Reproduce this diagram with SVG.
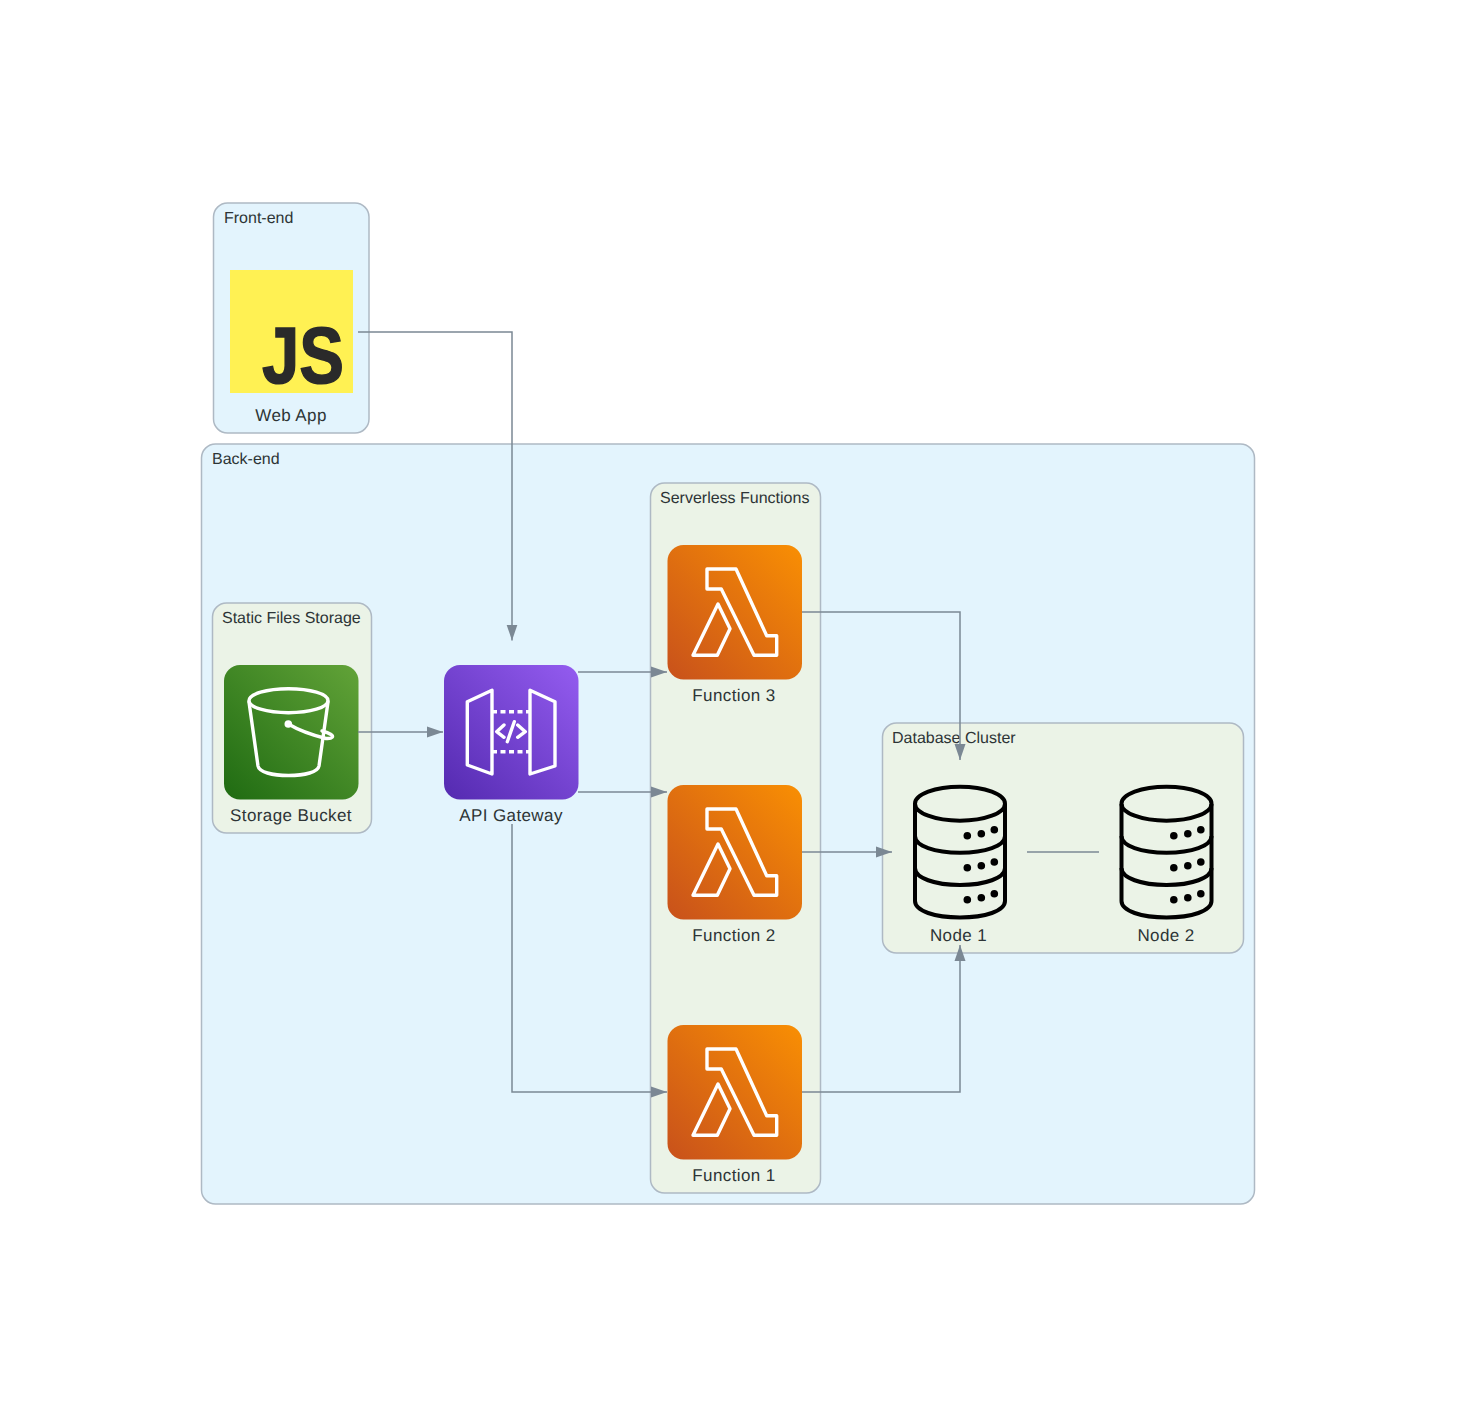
<svg xmlns="http://www.w3.org/2000/svg" xmlns:xlink="http://www.w3.org/1999/xlink" width="1457" height="1407" viewBox="0 0 1457 1407">
<style>
text{font-family:"Liberation Sans",Arial,sans-serif;fill:#2d3436;text-rendering:geometricPrecision}
.cl{font-size:16px}
.nl{font-size:17px;letter-spacing:.4px;text-anchor:middle}
.blue{fill:#e3f4fd;stroke:#aeb9c4;stroke-width:1.5}
.green{fill:#ebf3e7;stroke:#aeb9c4;stroke-width:1.5}
.w{fill:none;stroke:#fff;stroke-width:3.400;stroke-linejoin:round;stroke-linecap:round}
.c{fill:none;stroke:#7b8894;stroke-width:1.500}
.k{fill:none;stroke:#000;stroke-width:4;stroke-linejoin:round}
</style>
<defs>
<marker id="a" markerUnits="userSpaceOnUse" markerWidth="16" markerHeight="12" refX="16" refY="6" orient="auto"><path d="M0,0.500L16,6L0,11.500Z" fill="#7b8894"/></marker>
<linearGradient id="go" x1="0" y1="1" x2="1" y2="0"><stop offset="0" stop-color="#c8511b"/><stop offset="1" stop-color="#f98f03"/></linearGradient>
<linearGradient id="gg" x1="0" y1="1" x2="1" y2="0"><stop offset="0" stop-color="#1f6b12"/><stop offset="1" stop-color="#62a338"/></linearGradient>
<linearGradient id="gp" x1="0" y1="1" x2="1" y2="0"><stop offset="0" stop-color="#542ab0"/><stop offset="1" stop-color="#945cf0"/></linearGradient>
<g id="lam">
<rect x="667.500" y="545" width="134.500" height="134.500" rx="16" fill="url(#go)"/>
<path class="w" d="M707,569H736L766.700,635.700H776.700V655.300H754L721.300,589H707Z"/>
<path class="w" d="M718,604L730,628.700L717.300,655.300H693Z"/>
</g>
<g id="db">
<path class="k" d="M915,804V901C915,911 935,917.500 960,917.500S1005,911 1005,901V804"/>
<ellipse class="k" cx="960" cy="803.700" rx="45" ry="17"/>
<path class="k" d="M915,836C915,846 935,852.700 960,852.700S1005,846 1005,836"/>
<path class="k" d="M915,868C915,878 935,885 960,885S1005,878 1005,868"/>
<g fill="#000"><circle cx="967.300" cy="835.700" r="3.800"/><circle cx="981.300" cy="833.700" r="3.800"/><circle cx="994.300" cy="829.700" r="3.800"/><circle cx="967.300" cy="867.700" r="3.800"/><circle cx="981.300" cy="865.700" r="3.800"/><circle cx="994.300" cy="862" r="3.800"/><circle cx="967.300" cy="899.700" r="3.800"/><circle cx="981.300" cy="897.700" r="3.800"/><circle cx="994.300" cy="893.700" r="3.800"/></g>
</g>
</defs>
<rect width="1457" height="1407" fill="#fff"/>
<g id="cluster-frontend"><rect class="blue" x="213.500" y="203" width="155.500" height="230" rx="14"/><text class="cl" x="224" y="223">Front-end</text></g>
<g id="cluster-backend"><rect class="blue" x="201.500" y="444" width="1053" height="760" rx="14"/><text class="cl" x="212" y="464">Back-end</text></g>
<g id="cluster-storage"><rect class="green" x="212.500" y="603" width="159" height="230" rx="14"/><text class="cl" x="222" y="623">Static Files Storage</text></g>
<g id="cluster-functions"><rect class="green" x="650.500" y="483" width="170" height="710" rx="14"/><text class="cl" x="660" y="503">Serverless Functions</text></g>
<g id="cluster-database"><rect class="green" x="882.500" y="723" width="361" height="230" rx="14"/><text class="cl" x="892" y="743">Database Cluster</text></g>
<g id="web-app"><rect x="230" y="270" width="123" height="123" fill="#fff153"/><text x="262" y="383" font-size="80" font-weight="700" style="fill:#2a2a2a;stroke:#2a2a2a;stroke-width:1.500" textLength="82" lengthAdjust="spacingAndGlyphs">JS</text><text class="nl" x="291" y="421">Web App</text></g>
<g id="storage-bucket"><rect x="224" y="665" width="134.500" height="134.500" rx="16" fill="url(#gg)"/>
<ellipse class="w" cx="288.500" cy="700.700" rx="39.500" ry="12"/>
<path class="w" d="M249,702L258,766C259,772 272,775.500 288.500,775.500S318,772 319,766L328,702"/>
<circle cx="288.300" cy="724" r="3.800" fill="#fff"/>
<path class="w" d="M288.300,724C300,731 312,735 326,738.500C333,739 334,736 331,734.500C328,732.500 324,731.500 322,731"/>
<text class="nl" x="291" y="821">Storage Bucket</text></g>
<g id="api-gateway"><rect x="444" y="665" width="134.500" height="134.500" rx="16" fill="url(#gp)"/>
<path class="w" d="M467.300,701.700L492,690.300V774L467.300,765Z"/>
<path class="w" d="M530,690.300L555,701.700V766L530,774Z"/>
<path d="M492,711.700H530M492,751.700H530" fill="none" stroke="#fff" stroke-width="3.400" stroke-dasharray="5 3.500"/>
<path class="w" d="M504,725L496.700,731.700L504,737.300M514.300,721.700L507.300,741.700M517.700,725L525.300,731.700L517.700,737.300"/>
<text class="nl" x="511" y="821">API Gateway</text></g>
<g id="function-3"><use xlink:href="#lam"/><text class="nl" x="734" y="701">Function 3</text></g>
<g id="function-2"><use xlink:href="#lam" y="240"/><text class="nl" x="734" y="941">Function 2</text></g>
<g id="function-1"><use xlink:href="#lam" y="480"/><text class="nl" x="734" y="1181">Function 1</text></g>
<g id="node-1"><use xlink:href="#db"/><text class="nl" x="958.500" y="941">Node 1</text></g>
<g id="node-2"><use xlink:href="#db" x="206.500"/><text class="nl" x="1166" y="941">Node 2</text></g>
<g id="connectors">
<path class="c" marker-end="url(#a)" d="M358,332H512V640.500"/>
<path class="c" marker-end="url(#a)" d="M358,732H443"/>
<path class="c" marker-end="url(#a)" d="M578,672H667"/>
<path class="c" marker-end="url(#a)" d="M578,792H667"/>
<path class="c" marker-end="url(#a)" d="M512,824V1092H667"/>
<path class="c" marker-end="url(#a)" d="M802,612H960V760"/>
<path class="c" marker-end="url(#a)" d="M802,852H892"/>
<path class="c" marker-end="url(#a)" d="M802,1092H960V945"/>
<path class="c" d="M1027,852H1099"/>
</g>
</svg>
